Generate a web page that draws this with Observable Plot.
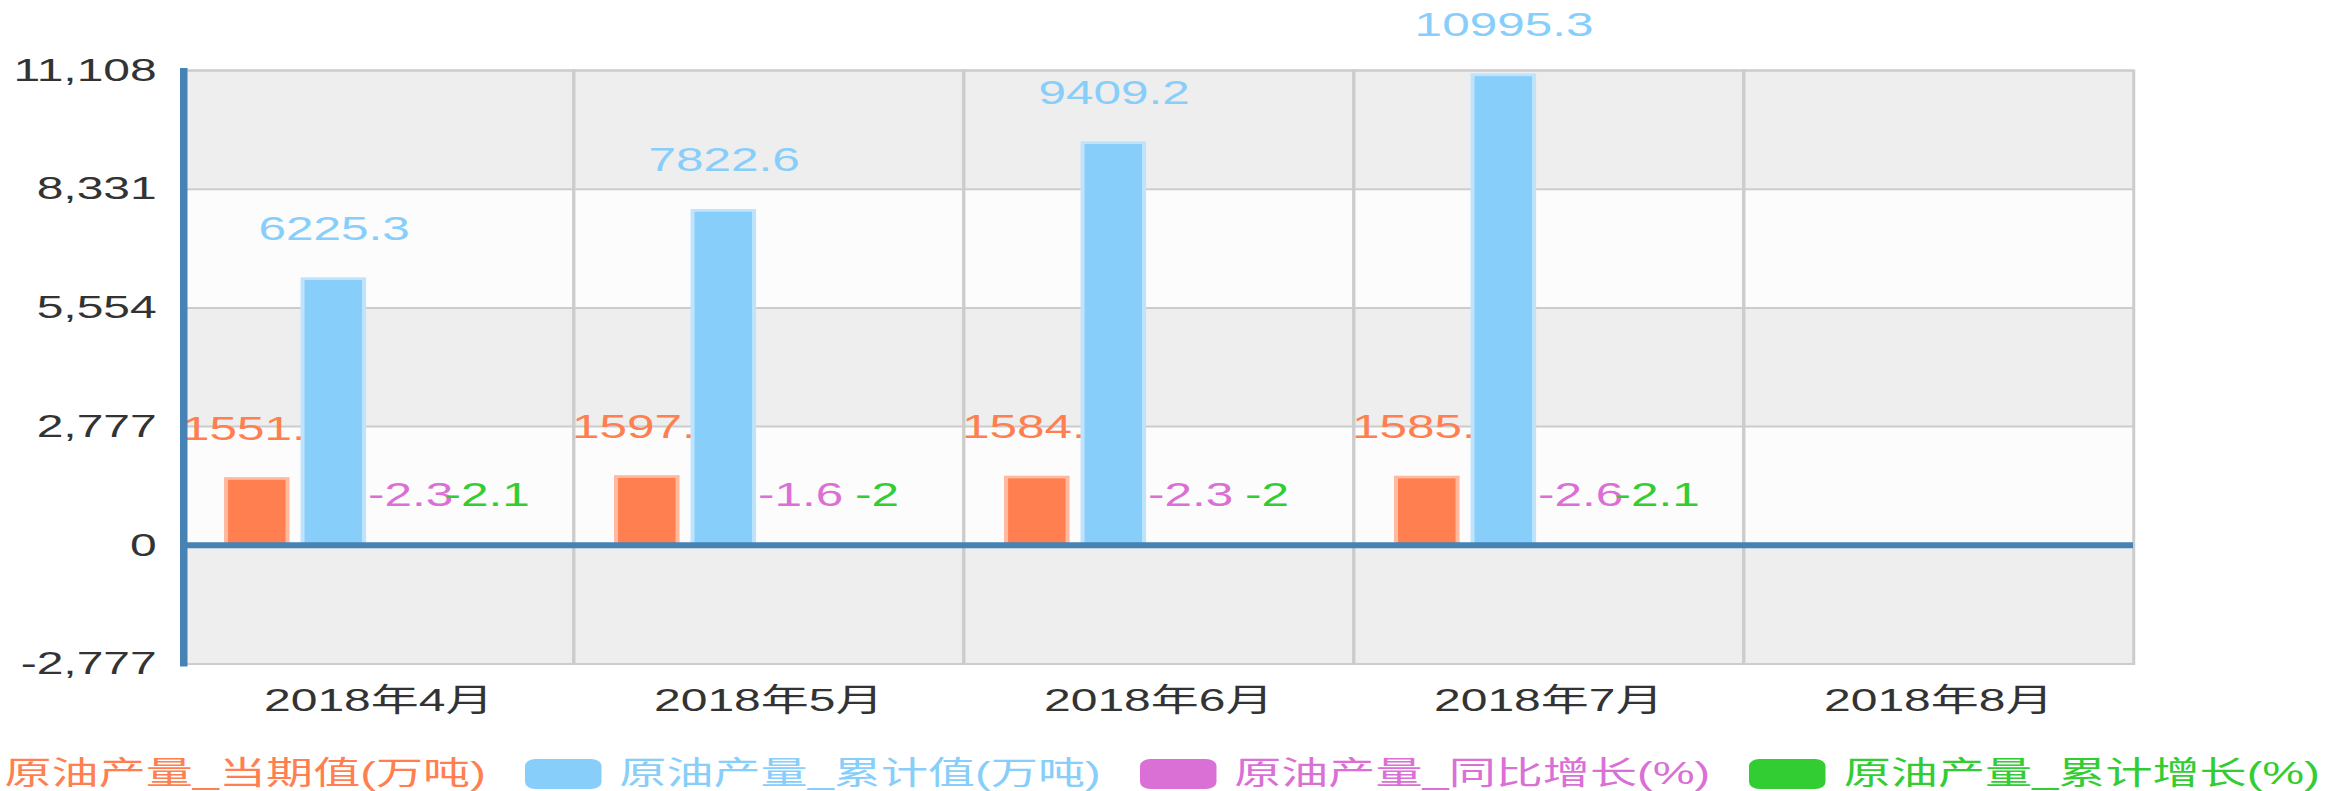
<!DOCTYPE html>
<html>
<head>
<meta charset="utf-8">
<script src="https://cdn.jsdelivr.net/npm/d3@7"></script>
<script src="https://cdn.jsdelivr.net/npm/@observablehq/plot@0.6"></script>
<style>
html, body { margin: 0; padding: 0; background: #fff; }
#chart { width: 2325px; height: 735px; overflow: hidden; }
#legend { position: relative; width: 2325px; height: 56px; overflow: hidden;
  font-family: "Liberation Sans", "Noto Sans CJK SC", sans-serif; }
#legend-inner { position: absolute; left: -90px; top: 0; height: 78px; display: flex; align-items: center;
  white-space: nowrap; transform: scaleX(1.5); transform-origin: 0 0; }
.item { display: flex; align-items: center; margin-right: 26px; }
.sw { width: 51px; height: 30px; border-radius: 7px; margin-right: 12px; }
.lbl { font-size: 31.4px; line-height: 1; }
</style>
</head>
<body>
<div id="chart"></div>
<div id="legend"><div id="legend-inner"></div></div>
<script>
// ---- data ----
const months = ["2018年4月", "2018年5月", "2018年6月", "2018年7月", "2018年8月"];
const seriesNames = ["原油产量_当期值(万吨)", "原油产量_累计值(万吨)", "原油产量_同比增长(%)", "原油产量_累计增长(%)"];
const currentValue = [1551.3, 1597.3, 1584.6, 1585.4, null];
const cumulativeValue = [6225.3, 7822.6, 9409.2, 10995.3, null];
const yoyGrowth = [-2.3, -1.6, -2.3, -2.6, null];
const cumulativeGrowth = [-2.1, -2, -2, -2.1, null];
const seriesColors = ["#FF7F50", "#87CEFA", "#DA70D6", "#32CD32"];
const yTicks = [-2777, 0, 2777, 5554, 8331, 11108];

// ---- derived tables ----
const seriesValues = [currentValue, cumulativeValue, yoyGrowth, cumulativeGrowth];
const rows = months.flatMap((m, i) => seriesNames.map((s, j) => ({month: m, series: s, value: seriesValues[j][i]})));
const bands = yTicks.slice(0, -1).map((t, i) => ({y1: t, y2: yTicks[i + 1], i}));
const lighter = seriesColors.map(c => d3.interpolateRgb(c, "#ffffff")(0.45));

const W = 1550, H = 735, OUT_W = 2325;

const seriesMarks = seriesNames.flatMap((s, j) => {
  const d = rows.filter(r => r.series === s);
  return [
    Plot.barY(d, {fx: "month", x: "series", y: "value", fill: seriesColors[j], stroke: lighter[j], strokeWidth: 2.7}),
    Plot.text(d, {fx: "month", x: "series", y: "value",
      text: r => (r.value == null ? null : String(r.value)),
      dy: -50, fill: seriesColors[j], fontSize: 33})
  ];
});

const plot = Plot.plot({
  width: W,
  height: H,
  marginTop: 70,
  marginBottom: 71.5,
  marginLeft: 121.3,
  marginRight: 126.7,
  style: {fontFamily: '"Liberation Sans", "Noto Sans CJK SC", sans-serif', fontSize: "32px", color: "#333", background: "#fff"},
  fx: {domain: months, padding: 0, label: null, tickSize: 0, tickPadding: 24, axis: "bottom"},
  x: {domain: seriesNames, axis: null, paddingInner: 0.205, paddingOuter: 0.607, align: 0.43},
  y: {domain: [-2777, 11108], ticks: yTicks, tickFormat: d => d.toLocaleString("en-US"), tickSize: 0, tickPadding: 18, label: null, nice: false},
  marks: [
    Plot.rect(bands.filter(b => b.i % 2 === 0), {y1: "y1", y2: "y2", fill: "#eeeeee"}),
    Plot.rect(bands.filter(b => b.i % 2 === 1), {y1: "y1", y2: "y2", fill: "#fcfcfc"}),
    Plot.ruleY(yTicks, {stroke: "#cccccc", strokeWidth: 2}),
    Plot.frame({stroke: "#cccccc", strokeWidth: 2}),
    ...seriesMarks,
    Plot.ruleY([0], {stroke: "#4682B4", strokeWidth: 6}),
    Plot.frame({anchor: "left", facetAnchor: "left", stroke: "#4682B4", strokeWidth: 5})
  ]
});

// stretch horizontally like the reference image
plot.setAttribute("preserveAspectRatio", "none");
plot.setAttribute("width", OUT_W);
plot.setAttribute("height", H);
plot.style.width = OUT_W + "px";
plot.style.height = H + "px";
plot.style.maxWidth = "none";
document.getElementById("chart").appendChild(plot);

// legend
const inner = document.getElementById("legend-inner");
seriesNames.forEach((s, j) => {
  const item = document.createElement("div");
  item.className = "item";
  const sw = document.createElement("div");
  sw.className = "sw";
  sw.style.background = seriesColors[j];
  const lbl = document.createElement("span");
  lbl.className = "lbl";
  lbl.style.color = seriesColors[j];
  lbl.textContent = s;
  item.appendChild(sw);
  item.appendChild(lbl);
  inner.appendChild(item);
});
</script>
</body>
</html>
